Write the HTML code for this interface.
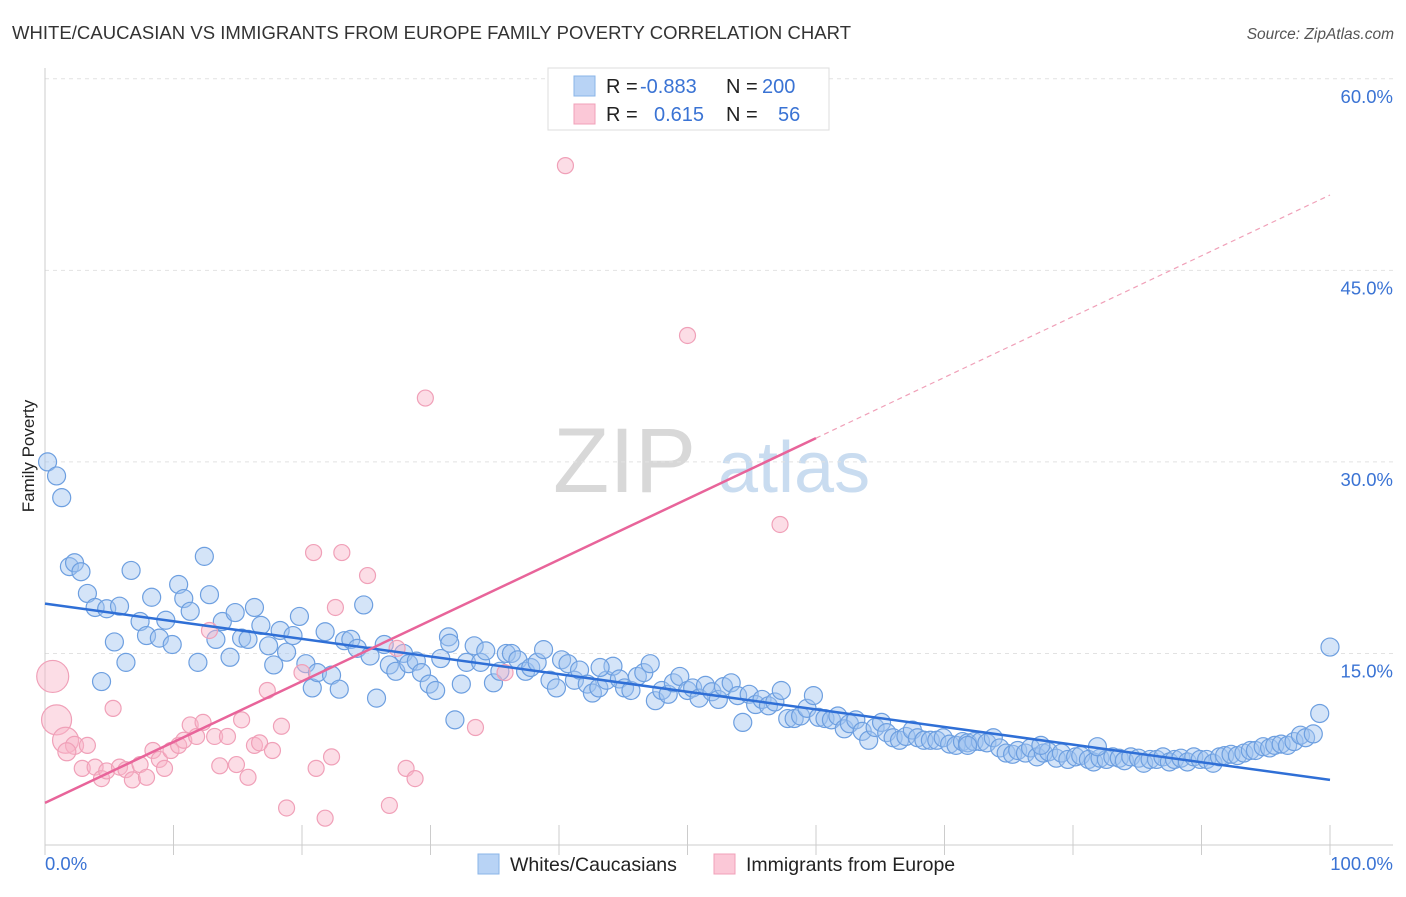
<!DOCTYPE html>
<html><head><meta charset="utf-8"><style>
body{margin:0;background:#fff;font-family:"Liberation Sans",sans-serif;}
svg text{font-family:"Liberation Sans",sans-serif;}
</style></head><body>
<svg id="chart" width="1406" height="892" xmlns="http://www.w3.org/2000/svg">
<text x="12" y="39" font-size="18.5" fill="#333" textLength="839">WHITE/CAUCASIAN VS IMMIGRANTS FROM EUROPE FAMILY POVERTY CORRELATION CHART</text>
<text x="1394" y="39" font-size="15.5" fill="#555" font-style="italic" text-anchor="end">Source: ZipAtlas.com</text>
<text x="34" y="456" font-size="17" fill="#222" text-anchor="middle" transform="rotate(-90 34 456)">Family Poverty</text>
<g>
<text x="553" y="492" font-size="92" fill="#d8d8d8" font-family="Liberation Serif">ZIP</text>
<text x="718" y="492" font-size="72" fill="#c9dcf0">atlas</text>
</g>
<g id="grid"></g>
<g id="axes"></g>
<g id="marks"></g>
<g>
<rect x="548" y="68" width="281" height="62" fill="#fff" stroke="#ddd"/>
<rect x="574" y="76" width="21" height="20" fill="#b8d3f5" stroke="#8ab4e8"/>
<rect x="574" y="104" width="21" height="20" fill="#fbc8d7" stroke="#f0a0b8"/>
<text x="606" y="93" font-size="20" fill="#222">R = <tspan fill="#3a73d4" x="640">-0.883</tspan></text>
<text x="726" y="93" font-size="20" fill="#222">N = <tspan fill="#3a73d4" x="762">200</tspan></text>
<text x="606" y="121" font-size="20" fill="#222">R = <tspan fill="#3a73d4" x="654">0.615</tspan></text>
<text x="726" y="121" font-size="20" fill="#222">N = <tspan fill="#3a73d4" x="778">56</tspan></text>
</g>
<g>
<rect x="478" y="854" width="21" height="20" fill="#b8d3f5" stroke="#8ab4e8"/>
<text x="510" y="871" font-size="19.5" fill="#222">Whites/Caucasians</text>
<rect x="714" y="854" width="21" height="20" fill="#fbc8d7" stroke="#f0a0b8"/>
<text x="746" y="871" font-size="19.5" fill="#222">Immigrants from Europe</text>
</g>
</svg>
<script>
const blueX=[0.2,0.9,1.3,1.9,2.3,2.8,3.3,3.9,4.8,5.8,6.7,5.4,6.3,4.4,7.4,7.9,8.3,8.9,9.4,9.9,10.4,10.8,11.3,11.9,12.4,12.8,13.3,13.8,14.4,14.8,15.3,15.8,16.3,16.8,17.4,17.8,18.3,18.8,19.3,19.8,20.3,20.8,21.2,21.8,22.3,22.9,23.3,23.8,24.3,24.8,25.3,25.8,26.4,26.8,27.3,27.9,28.3,28.9,29.3,29.9,30.4,30.8,31.4,31.9,32.4,32.8,33.4,33.9,34.3,34.9,35.4,35.9,36.3,36.8,37.4,37.8,38.3,38.8,39.3,39.8,40.2,40.7,41.2,41.6,42.2,42.6,43.1,43.7,44.2,44.7,45.1,45.6,46.1,46.6,47.1,47.5,48.0,48.5,48.9,49.4,50.0,50.4,50.9,51.4,51.9,52.4,52.8,53.4,53.9,54.3,54.8,55.3,55.8,56.3,56.8,57.3,57.8,58.3,58.8,59.3,59.8,60.2,60.7,61.2,61.7,62.2,62.6,63.1,63.6,64.1,64.6,65.1,65.5,66.0,66.5,67.0,67.5,67.9,68.4,68.9,69.4,69.9,70.4,70.9,71.4,71.8,72.3,72.8,73.3,73.8,74.3,74.8,75.3,75.7,76.3,76.7,77.2,77.7,78.1,78.7,79.1,79.6,80.2,80.6,81.2,81.6,82.1,82.6,83.1,83.6,84.0,84.5,85.1,85.5,86.0,86.5,87.0,87.5,87.9,88.4,88.9,89.4,89.9,90.4,90.9,91.4,91.8,92.3,92.8,93.3,93.8,94.2,94.8,95.3,95.7,96.2,96.7,97.2,97.7,98.1,98.7,99.2,100,81.9,77.5,71.8,43.2,31.5];
const blueY=[30.0,28.9,27.2,21.8,22.1,21.4,19.7,18.6,18.5,18.7,21.5,15.9,14.3,12.8,17.5,16.4,19.4,16.2,17.6,15.7,20.4,19.3,18.3,14.3,22.6,19.6,16.1,17.5,14.7,18.2,16.2,16.1,18.6,17.2,15.6,14.1,16.8,15.1,16.4,17.9,14.2,12.3,13.5,16.7,13.3,12.2,16.0,16.1,15.4,18.8,14.8,11.5,15.7,14.1,13.6,15.0,14.2,14.4,13.5,12.6,12.1,14.6,16.3,9.8,12.6,14.3,15.6,14.3,15.2,12.7,13.6,15.0,15.0,14.5,13.6,13.9,14.3,15.3,12.9,12.3,14.5,14.2,12.9,13.7,12.6,11.9,12.3,12.9,14.0,13.0,12.3,12.1,13.2,13.5,14.2,11.3,12.1,11.8,12.7,13.2,12.1,12.3,11.5,12.5,12.0,11.4,12.4,12.7,11.7,9.6,11.8,11.0,11.4,10.9,11.2,12.1,9.9,9.9,10.1,10.7,11.7,10.0,9.9,9.8,10.1,9.1,9.5,9.8,8.9,8.2,9.2,9.6,8.8,8.4,8.2,8.5,9.0,8.4,8.2,8.2,8.2,8.4,7.9,7.8,8.1,8.0,8.1,8.1,8.0,8.4,7.6,7.2,7.1,7.4,7.2,7.6,6.9,7.2,7.3,6.8,7.2,6.7,6.9,7.0,6.7,6.5,6.8,6.7,6.9,6.8,6.6,6.9,6.8,6.4,6.7,6.7,6.9,6.5,6.7,6.8,6.5,6.9,6.7,6.7,6.4,6.9,7.0,7.1,7.0,7.2,7.4,7.4,7.7,7.6,7.8,7.9,7.8,8.1,8.6,8.4,8.7,10.3,15.5,7.7,7.8,7.8,13.9,15.8];
const pinkX=[0.6,0.9,1.6,2.3,1.7,2.9,3.3,3.9,4.4,4.8,5.3,5.8,6.3,6.8,7.4,7.9,8.4,8.9,9.3,9.8,10.4,10.8,11.3,11.8,12.3,12.8,13.2,13.6,14.2,14.9,15.3,15.8,16.3,16.7,17.3,17.7,18.4,18.8,20.0,20.9,21.1,21.8,22.3,22.6,23.1,25.1,26.8,27.4,28.1,28.8,29.6,33.5,40.5,50.0,57.2,35.8];
const pinkY=[13.2,9.8,8.2,7.8,7.3,6.0,7.8,6.1,5.2,5.8,10.7,6.1,5.9,5.1,6.3,5.3,7.4,6.7,6.0,7.4,7.8,8.2,9.4,8.5,9.6,16.8,8.5,6.2,8.5,6.3,9.8,5.3,7.8,8.0,12.1,7.4,9.3,2.9,13.5,22.9,6.0,2.1,6.9,18.6,22.9,21.1,3.1,15.4,6.0,5.2,35.0,9.2,53.2,39.9,25.1,13.5];
const pinkR=[16,15,13,9,9,8,8,8,8,8,8,8,8,8,8,8,8,8,8,8,8,8,8,8,8,8,8,8,8,8,8,8,8,8,8,8,8,8,8,8,8,8,8,8,8,8,8,8,8,8,8,8,8,8,8,8];
const xTicks=[0,10,20,30,40,50,60,70,80,90,100];
const yTicks=[15,30,45,60];
const blueFit=[18.9,5.1];
const pinkFit=[3.3,50.9];

const X=v=>45+v*12.85;
const Y=v=>845-v*12.77;
const NS='http://www.w3.org/2000/svg';
function mk(tag,attrs,parent){const e=document.createElementNS(NS,tag);for(const k in attrs)e.setAttribute(k,attrs[k]);parent.appendChild(e);return e;}
const grid=document.getElementById('grid'),axes=document.getElementById('axes'),marks=document.getElementById('marks');
yTicks.forEach(t=>{
  const l=mk('line',{x1:45,x2:1393,y1:Y(t),y2:Y(t),stroke:'#e2e2e2','stroke-dasharray':'4 4'},grid);
  
  
  const tx=mk('text',{x:1393,y:Y(t)+24,'font-size':18.5,fill:'#3a73d4','text-anchor':'end'},axes);
  tx.textContent=t.toFixed(1)+'%';
  
  
});
const ya=mk('line',{x1:45,x2:45,y1:68,y2:845,stroke:'#ccc'},axes);


const xa=mk('line',{x1:45,x2:1393,y1:845,y2:845,stroke:'#ccc'},axes);


xTicks.forEach(t=>{
  const l=mk('line',{x1:X(t),x2:X(t),y1:825,y2:855,stroke:'#ccc'},axes);
  
  
});
[[0,'start',45],[100,'end',1393]].forEach(([t,a,px])=>{
  const tx=mk('text',{x:px,y:870,'font-size':18.5,fill:'#3a73d4','text-anchor':a},axes);
  tx.textContent=t.toFixed(1)+'%';
  
  
});
blueX.forEach((x,i)=>{
  const c=mk('circle',{cx:X(x),cy:Y(blueY[i]),r:9,fill:'rgba(160,196,240,0.45)',stroke:'#6d9fe0','stroke-width':1.2},marks);
  
  
});
pinkX.forEach((x,i)=>{
  const c=mk('circle',{cx:X(x),cy:Y(pinkY[i]),r:pinkR[i],fill:'rgba(248,180,200,0.45)',stroke:'#f0a0b8','stroke-width':1.2},marks);
  
  
});
const bl=mk('line',{x1:X(0),y1:Y(blueFit[0]),x2:X(100),y2:Y(blueFit[1]),stroke:'#2f6fd6','stroke-width':2.5},marks);


const pAt=v=>pinkFit[0]+(pinkFit[1]-pinkFit[0])*v/100;
const pl=mk('line',{x1:X(0),y1:Y(pAt(0)),x2:X(60),y2:Y(pAt(60)),stroke:'#e8649a','stroke-width':2.5},marks);


const pd=mk('line',{x1:X(60),y1:Y(pAt(60)),x2:X(100),y2:Y(pAt(100)),stroke:'#f0a0b8','stroke-width':1.2,'stroke-dasharray':'5 4'},marks);


</script>
</body></html>
